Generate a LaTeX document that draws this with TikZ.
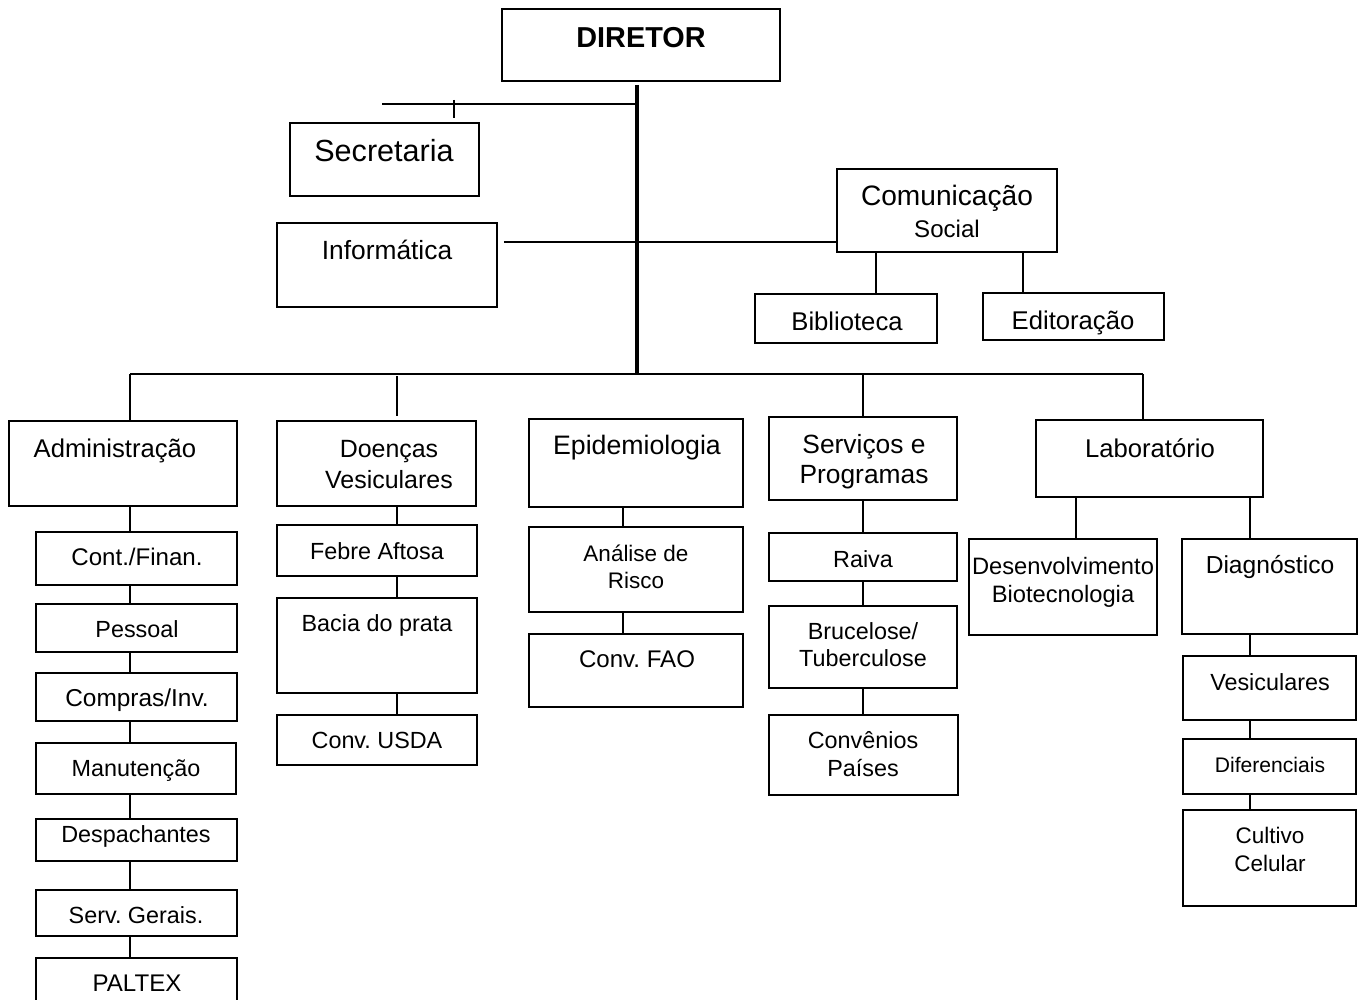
\documentclass[tikz,border=0pt]{standalone}
\usepackage{fontspec}
\setmainfont{Liberation Sans}
\usetikzlibrary{fit}
\frenchspacing

\begin{document}
\begin{tikzpicture}[x=0.02cm, y=-0.02cm,
    box/.style={draw, line width=1.1pt, inner sep=0pt},
    link/.style={line width=1.1pt},
    trunk/.style={line width=2.4pt},
    head/.style={inner sep=0pt, anchor=base, align=center, font=\fontsize{14.6}{17}\selectfont},
    sub/.style={inner sep=0pt, anchor=base, align=center, font=\fontsize{13.3}{15.9}\selectfont}]
    \useasboundingbox (0,0) rectangle (1359,1000);

    % Director and staff
    \node[box, fit={(502,9) (780,81)}] (dir) {};
    \node[head, font=\fontsize{16.4}{18}\selectfont\bfseries] (dirT) at (641,48) {DIRETOR};
    \node[box, fit={(290,123) (479,196)}] (sec) {};
    \node[head, font=\fontsize{17.4}{20}\selectfont] (secT) at (384,162) {Secretaria};
    \node[box, fit={(277,223) (497,307)}] (info) {};
    \node[head, font=\fontsize{15}{17}\selectfont] (infoT) at (387,259) {Informática};
    \node[box, fit={(837,169) (1057,252)}] (comm) {};
    \node[head, font=\fontsize{16}{18}\selectfont] (commT) at (947,206) {Comunicação};
    \node[sub, font=\fontsize{13.7}{16}\selectfont] (commS) at (947,237) {Social};
    \node[box, fit={(755,294) (937,343)}] (bib) {};
    \node[head] (bibT) at (847,330) {Biblioteca};
    \node[box, fit={(983,293) (1164,340)}] (edi) {};
    \node[head] (ediT) at (1073,329) {Editoração};

    % Departments (two-line texts sit on their last baseline)
    \node[box, fit={(9,421) (237,506)}] (adm) {};
    \node[head] (admT) at (115,457) {Administração};
    \node[box, fit={(277,421) (476,506)}] (doe) {};
    \node[head, font=\fontsize{14.2}{17.6}\selectfont] (doeT) at (389,488) {Doenças\\Vesiculares};
    \node[box, fit={(529,419) (743,507)}] (epi) {};
    \node[head, font=\fontsize{15.2}{17}\selectfont] (epiT) at (637,454) {Epidemiologia};
    \node[box, fit={(769,417) (957,500)}] (srv) {};
    \node[head, font=\fontsize{15}{17}\selectfont] (srvT) at (864,483) {Serviços e\\Programas};
    \node[box, fit={(1036,420) (1263,497)}] (lab) {};
    \node[head] (labT) at (1150,457) {Laboratório};

    % Administracao
    \node[box, fit={(36,532) (237,585)}] (cfin) {};
    \node[sub, font=\fontsize{13.7}{16}\selectfont] (cfinT) at (137,565) {Cont./Finan.};
    \node[box, fit={(36,604) (237,652)}] (pess) {};
    \node[sub] (pessT) at (137,637) {Pessoal};
    \node[box, fit={(36,673) (237,721)}] (comp) {};
    \node[sub, font=\fontsize{13.9}{16}\selectfont] (compT) at (137,706) {Compras/Inv.};
    \node[box, fit={(36,743) (236,794)}] (manu) {};
    \node[sub] (manuT) at (136,776) {Manutenção};
    \node[box, fit={(36,819) (237,861)}] (desp) {};
    \node[sub] (despT) at (136,842) {Despachantes};
    \node[box, fit={(36,890) (237,936)}] (sger) {};
    \node[sub] (sgerT) at (136,923) {Serv. Gerais.};
    \node[box, fit={(36,958) (237,1012)}] (palt) {};
    \node[sub, font=\fontsize{13.7}{16}\selectfont] (paltT) at (137,991) {PALTEX};

    % Doencas Vesiculares
    \node[box, fit={(277,525) (477,576)}] (feb) {};
    \node[sub] (febT) at (377,559) {Febre Aftosa};
    \node[box, fit={(277,598) (477,693)}] (bac) {};
    \node[sub] (bacT) at (377,631) {Bacia do prata};
    \node[box, fit={(277,715) (477,765)}] (usda) {};
    \node[sub] (usdaT) at (377,748) {Conv. USDA};

    % Epidemiologia
    \node[box, fit={(529,527) (743,612)}] (ana) {};
    \node[sub, font=\fontsize{12.8}{15.3}\selectfont] (anaT) at (636,588) {Análise de\\Risco};
    \node[box, fit={(529,634) (743,707)}] (fao) {};
    \node[sub, font=\fontsize{13.7}{16}\selectfont] (faoT) at (637,667) {Conv. FAO};

    % Servicos e Programas
    \node[box, fit={(769,533) (957,581)}] (rai) {};
    \node[sub] (raiT) at (863,567) {Raiva};
    \node[box, fit={(769,606) (957,688)}] (bru) {};
    \node[sub, font=\fontsize{13.3}{15.3}\selectfont] (bruT) at (863,666) {Brucelose/\\Tuberculose};
    \node[box, fit={(769,715) (958,795)}] (con) {};
    \node[sub] (conT) at (863,776) {Convênios\\Países};

    % Laboratorio
    \node[box, fit={(969,539) (1157,635)}] (des) {};
    \node[sub, font=\fontsize{13.5}{15.9}\selectfont] (desT) at (1063,602) {Desenvolvimento\\Biotecnologia};
    \node[box, fit={(1182,539) (1357,634)}] (dia) {};
    \node[sub, font=\fontsize{14}{16}\selectfont] (diaT) at (1270,573) {Diagnóstico};
    \node[box, fit={(1183,656) (1356,720)}] (ves) {};
    \node[sub] (vesT) at (1270,690) {Vesiculares};
    \node[box, fit={(1183,739) (1356,794)}] (dif) {};
    \node[sub, font=\fontsize{12}{14}\selectfont] (difT) at (1270,772) {Diferenciais};
    \node[box, fit={(1183,810) (1356,906)}] (cul) {};
    \node[sub, font=\fontsize{12.8}{15.9}\selectfont] (culT) at (1270,871) {Cultivo\\Celular};

    % Connector columns
    \coordinate (bus) at (637,374);
    \coordinate (admC) at (130,0);
    \coordinate (doeC) at (397,0);
    \coordinate (epiC) at (623,0);
    \coordinate (srvC) at (863,0);
    \coordinate (labC) at (1143,0);
    \coordinate (desC) at (1076,0);
    \coordinate (diaC) at (1250,0);
    \coordinate (bibC) at (876,0);
    \coordinate (ediC) at (1023,0);
    \coordinate (secA) at (382,104);
    \coordinate (secB) at (454,100);
    \coordinate (infoY) at (0,242);

    % Trunk and bus
    \draw[trunk] ([yshift=-0.06cm]dir.south -| bus) -- (bus);
    \draw[link] (admC |- bus) -- (labC |- bus);
    \draw[link] (secA) -- (secA -| bus);
    \draw[link, shorten >=0.08cm] (secB) -- (secB |- sec.north);
    \draw[link, shorten <=0.12cm] (info.east |- infoY) -- (comm.west |- infoY);
    \draw[link] (comm.south -| bibC) -- (bib.north -| bibC);
    \draw[link] (comm.south -| ediC) -- (edi.north -| ediC);

    % Drops to departments
    \draw[link] (admC |- bus) -- (adm.north -| admC);
    \draw[link, shorten <=0.04cm, shorten >=0.08cm] (doeC |- bus) -- (doe.north -| doeC);
    \draw[link] (srvC |- bus) -- (srv.north -| srvC);
    \draw[link] (labC |- bus) -- (lab.north -| labC);
    \draw[link] (lab.south -| desC) -- (des.north -| desC);
    \draw[link] (lab.south -| diaC) -- (dia.north -| diaC);

    % Chains below departments
    \foreach \a/\b in {adm/cfin, cfin/pess, pess/comp, comp/manu, manu/desp, desp/sger, sger/palt}
        \draw[link] (\a.south -| admC) -- (\b.north -| admC);
    \foreach \a/\b in {doe/feb, feb/bac, bac/usda}
        \draw[link] (\a.south -| doeC) -- (\b.north -| doeC);
    \foreach \a/\b in {epi/ana, ana/fao}
        \draw[link] (\a.south -| epiC) -- (\b.north -| epiC);
    \foreach \a/\b in {srv/rai, rai/bru, bru/con}
        \draw[link] (\a.south -| srvC) -- (\b.north -| srvC);
    \foreach \a/\b in {dia/ves, ves/dif, dif/cul}
        \draw[link] (\a.south -| diaC) -- (\b.north -| diaC);
\end{tikzpicture}
\end{document}
